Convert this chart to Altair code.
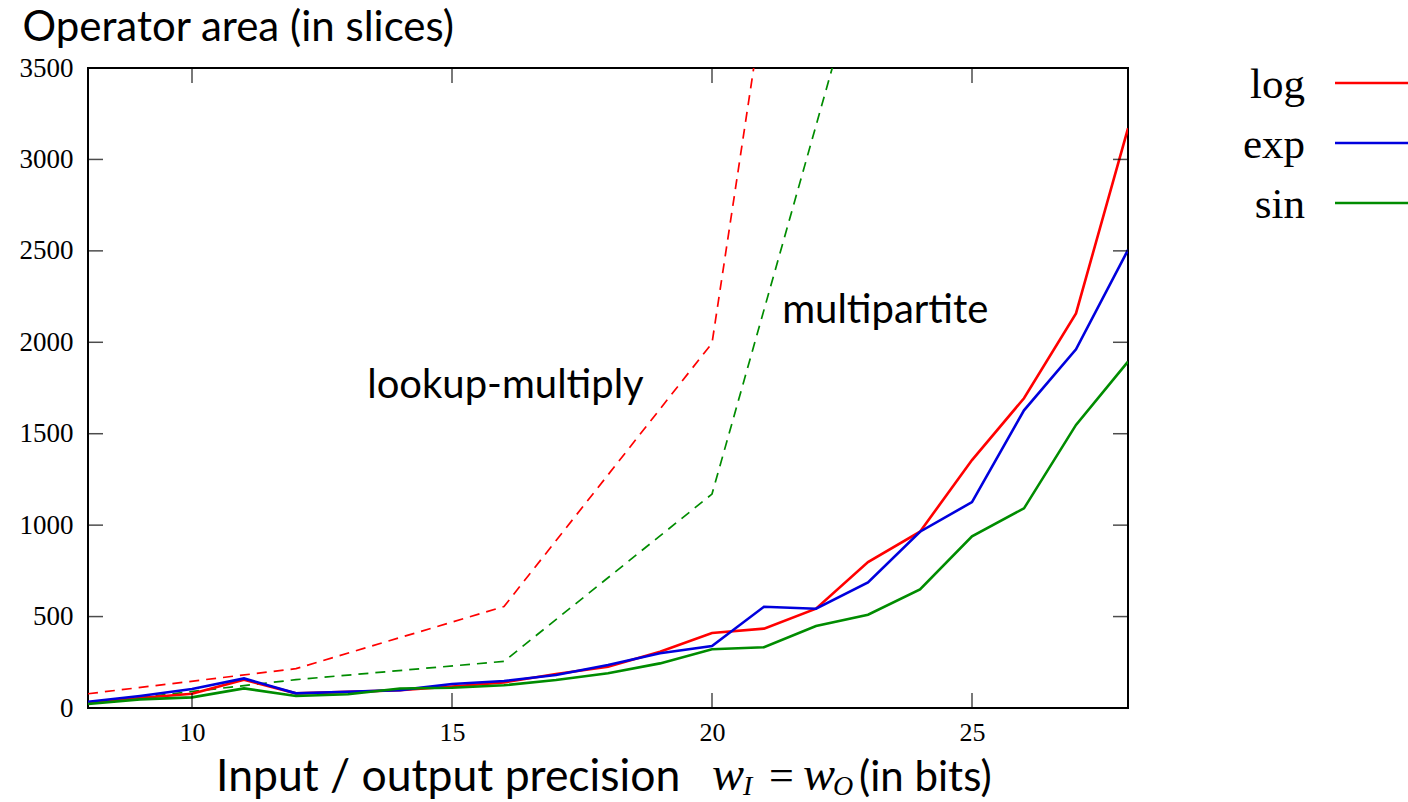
import altair as alt
import pandas as pd

# ---------------- data ----------------
bits = list(range(8, 29))
log_area = [29, 55, 78, 155, 80, 88, 97, 118, 140, 186, 226, 308, 410, 434, 543, 798, 964, 1356, 1694, 2158, 3170]
exp_area = [34, 66, 104, 162, 80, 89, 98, 131, 148, 180, 235, 299, 339, 554, 543, 687, 964, 1126, 1628, 1962, 2505]
sin_area = [22, 47, 58, 107, 66, 75, 107, 111, 124, 153, 190, 244, 321, 332, 448, 510, 649, 939, 1092, 1548, 1894]

coarse_bits = [8, 12, 16, 20, 24]
lookup_multiply = [78, 215, 555, 1995, 9500]
multipartite = [25, 155, 255, 1170, 5200]

series_names = ["log", "exp", "sin"]
series_colors = ["#ff0000", "#0000dd", "#008c00"]

x_ticks = [10, 15, 20, 25]
y_ticks = [0, 500, 1000, 1500, 2000, 2500, 3000, 3500]

ann_text = ["lookup-multiply", "multipartite"]
ann_bits = [13.37, 21.35]
ann_area = [1695, 2105]

x_title_parts = ["Input / output precision", "w", "I", "=", "w", "O", "(in bits)"]
y_title = "Operator area (in slices)"

# ---------------- layout ----------------
W, H = 1040, 640
SANS = "Lato"
SERIF = "Liberation Serif"

rows = []
for name, vals in zip(series_names, [log_area, exp_area, sin_area]):
    for b, v in zip(bits, vals):
        rows.append({"bits": b, "area": v, "series": name})
df = pd.DataFrame(rows)
df_lm = pd.DataFrame({"bits": coarse_bits, "area": lookup_multiply})
df_mp = pd.DataFrame({"bits": coarse_bits, "area": multipartite})

xs = alt.Scale(domain=[8, 28], nice=False, zero=False)
ys = alt.Scale(domain=[0, 3500], nice=False, zero=True)
color = alt.Color("series:N", scale=alt.Scale(domain=series_names, range=series_colors), legend=None)

x_axis = alt.Axis(values=x_ticks, tickSize=0, domain=False, grid=False, format="d",
                  labelFont=SERIF, labelFontSize=26, labelColor="black",
                  labelPadding=24, labelBaseline="middle", title=None)
y_axis = alt.Axis(values=y_ticks, tickSize=0, domain=False, grid=False, format="d",
                  labelFont=SERIF, labelFontSize=27, labelColor="black",
                  labelPadding=15, labelBaseline="middle",
                  title=y_title, titleAngle=0, titleAlign="left", titleBaseline="alphabetic",
                  titleX=-66, titleY=-28, titleFont=SANS, titleFontSize=42,
                  titleFontWeight="normal", titleColor="black")

X = alt.X("bits:Q", scale=xs, axis=x_axis)
Y = alt.Y("area:Q", scale=ys, axis=y_axis)

solid = alt.Chart(df).mark_line(strokeWidth=2.6, clip=True).encode(x=X, y=Y, color=color)

def dashed(d, c):
    return alt.Chart(d).mark_line(strokeWidth=1.7, strokeDash=[10, 7], clip=True, color=c).encode(x=X, y=Y)

dash_lm = dashed(df_lm, series_colors[0])
dash_mp = dashed(df_mp, series_colors[2])

xt = pd.DataFrame({"bits": x_ticks})
yt = pd.DataFrame({"area": y_ticks})

def vticks(ypix):
    return alt.Chart(xt).mark_tick(orient="vertical", size=30, thickness=1.5, color="black", clip=True).encode(
        x=X, y=alt.value(ypix))

def hticks(xpix):
    return alt.Chart(yt).mark_tick(orient="horizontal", size=30, thickness=1.5, color="black", clip=True).encode(
        y=Y, x=alt.value(xpix))

ann = alt.Chart(pd.DataFrame({"label": ann_text, "bits": ann_bits, "area": ann_area})).mark_text(
    align="left", baseline="alphabetic", font=SANS, fontSize=40, color="black").encode(
    x=X, y=Y, text="label:N")

def piece(txt, xpix, ypix, font, size, style="normal"):
    return alt.Chart(pd.DataFrame({"t": [txt]})).mark_text(
        align="left", baseline="alphabetic", font=font, fontSize=size, fontStyle=style,
        color="black").encode(text="t:N", x=alt.value(xpix), y=alt.value(ypix))

xt_parts = [
    piece(x_title_parts[0], 128, 723, SANS, 44.5),
    piece(x_title_parts[1], 624, 722, SERIF, 48, "italic"),
    piece(x_title_parts[2], 655, 727, SERIF, 28, "italic"),
    piece(x_title_parts[3], 681, 722, SERIF, 44),
    piece(x_title_parts[4], 715, 722, SERIF, 48, "italic"),
    piece(x_title_parts[5], 745, 727, SERIF, 28, "italic"),
    piece(x_title_parts[6], 771, 723, SANS, 42),
]

plot = alt.layer(dash_lm, dash_mp, solid, vticks(0), vticks(H), hticks(0), hticks(W), ann, *xt_parts)

leg_df = pd.DataFrame({"series": series_names, "slot": list(range(len(series_names)))})
leg_y = alt.Y("slot:Q", scale=alt.Scale(domain=[0, 2], range=[15, 135]), axis=None)
leg_lines = alt.Chart(leg_df).mark_rule(strokeWidth=2.6).encode(
    x=alt.value(1247), x2=alt.value(1320), y=leg_y, color=color)
leg_text = alt.Chart(leg_df).mark_text(align="right", baseline="alphabetic", dy=15,
                                        font=SERIF, fontSize=43, color="black").encode(
    x=alt.value(1217), y=leg_y, text="series:N")
legend = alt.layer(leg_lines, leg_text)

chart = alt.layer(plot, legend).resolve_scale(y="independent").properties(
    width=W, height=H,
    autosize=alt.AutoSizeParams(type="none"),
    padding={"left": 88, "top": 68, "right": 280, "bottom": 94},
    background="white",
).configure_view(stroke="black", strokeWidth=2)

chart.save("out.html", embed_options={"renderer": "svg", "actions": False})
